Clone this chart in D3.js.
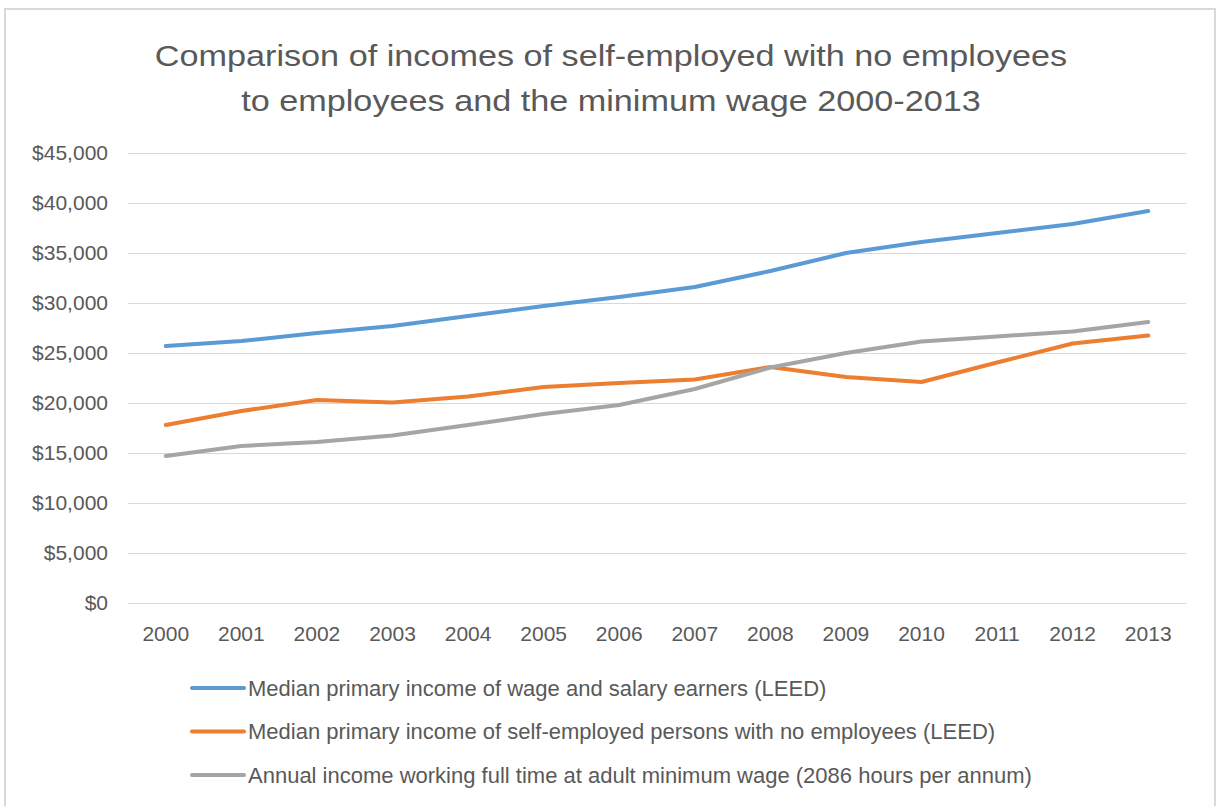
<!DOCTYPE html>
<html>
<head>
<meta charset="utf-8">
<script src="https://cdn.jsdelivr.net/npm/d3@7"></script>
<style>
  body { margin: 0; background: #fff; }
  svg { display: block; }
</style>
</head>
<body>
<svg id="chart"></svg>
<script>
// values (NZ$ per year)
var years = ["2000", "2001", "2002", "2003", "2004", "2005", "2006",
             "2007", "2008", "2009", "2010", "2011", "2012", "2013"];
var wageEarners = [25700, 26200, 27000, 27700, 28700, 29700, 30600,
                   31600, 33200, 35000, 36100, 37000, 37900, 39200];
var selfEmployed = [17800, 19200, 20300, 20050, 20650, 21600, 22000,
                    22350, 23600, 22600, 22100, 24050, 25950, 26750];
var minimumWage = [14700, 15700, 16100, 16750, 17800, 18900, 19800,
                   21400, 23550, 25000, 26150, 26650, 27150, 28100];
var seriesNames = [
    "Median primary income of wage and salary earners (LEED)",
    "Median primary income of self-employed persons with no employees (LEED)",
    "Annual income working full time at adult minimum wage (2086 hours per annum)"
];
var yTicks = [0, 5000, 10000, 15000, 20000, 25000, 30000, 35000, 40000, 45000];

var width = 1221, height = 806;
var colors = ["#5b9bd5", "#ed7d31", "#a5a5a5"];
var textColor = "#595959";
var font = "'Liberation Sans', Arial, sans-serif";

var series = [wageEarners, selfEmployed, minimumWage].map(function (vals, i) {
    return { name: seriesNames[i], color: colors[i], values: vals };
});

var svg = d3.select("#chart")
    .attr("width", width)
    .attr("height", height);

// chart frame
svg.append("rect")
    .attr("x", 5).attr("y", 9)
    .attr("width", 1210).attr("height", 810)
    .attr("fill", "#fff")
    .attr("stroke", "#d9d9d9")
    .attr("stroke-width", 2);

// title (the original font is a bit wider, so stretch the lines a little)
var title = svg.append("g")
    .attr("fill", textColor)
    .style("font-family", font)
    .style("font-size", "30px");
title.selectAll("text")
    .data(["Comparison of incomes of self-employed with no employees",
           "to employees and the minimum wage 2000-2013"])
    .enter()
    .append("text")
    .attr("x", 611)
    .attr("y", function (d, i) { return 66 + i * 45; })
    .attr("text-anchor", "middle")
    .text(function (d) { return d; })
    .each(function () {
        var len = this.getComputedTextLength();
        d3.select(this)
            .attr("textLength", len * 1.14)
            .attr("lengthAdjust", "spacingAndGlyphs");
    });

var x = d3.scaleBand()
    .domain(years)
    .range([128, 1186]);

var y = d3.scaleLinear()
    .domain([0, 45000])
    .range([603, 153]);

// gridlines
svg.append("g")
    .selectAll("line")
    .data(yTicks)
    .enter()
    .append("line")
    .attr("x1", 128).attr("x2", 1186)
    .attr("y1", function (d) { return Math.round(y(d)) + 0.5; })
    .attr("y2", function (d) { return Math.round(y(d)) + 0.5; })
    .attr("stroke", "#d9d9d9")
    .attr("stroke-width", 1);

// y axis labels
var fmt = d3.format(",");
var yAxis = svg.append("g")
    .attr("transform", "translate(108,0)")
    .call(d3.axisLeft(y).tickValues(yTicks).tickSize(0).tickPadding(0)
        .tickFormat(function (d) { return "$" + fmt(d); }));
yAxis.select(".domain").remove();
yAxis.selectAll("text")
    .attr("fill", textColor)
    .style("font-family", font)
    .style("font-size", "21px");

// x axis labels
var xAxis = svg.append("g")
    .attr("transform", "translate(0,603)")
    .call(d3.axisBottom(x).tickSize(0).tickPadding(23));
xAxis.select(".domain").remove();
xAxis.selectAll("text")
    .attr("fill", textColor)
    .style("font-family", font)
    .style("font-size", "21px");

// lines
var line = d3.line()
    .x(function (d, i) { return x(years[i]) + x.bandwidth() / 2; })
    .y(function (d) { return y(d); });

svg.append("g")
    .selectAll("path")
    .data(series)
    .enter()
    .append("path")
    .attr("d", function (d) { return line(d.values); })
    .attr("fill", "none")
    .attr("stroke", function (d) { return d.color; })
    .attr("stroke-width", 4)
    .attr("stroke-linejoin", "round")
    .attr("stroke-linecap", "round");

// legend
var legend = svg.append("g")
    .selectAll("g")
    .data(series)
    .enter()
    .append("g")
    .attr("transform", function (d, i) { return "translate(190," + (688 + i * 43.5) + ")"; });

legend.append("line")
    .attr("x1", 2).attr("x2", 54)
    .attr("y1", 0).attr("y2", 0)
    .attr("stroke", function (d) { return d.color; })
    .attr("stroke-width", 4)
    .attr("stroke-linecap", "round");

legend.append("text")
    .attr("x", 58)
    .attr("y", 0)
    .attr("dy", "0.35em")
    .attr("fill", textColor)
    .style("font-family", font)
    .style("font-size", "22px")
    .text(function (d) { return d.name; });
</script>
</body>
</html>
